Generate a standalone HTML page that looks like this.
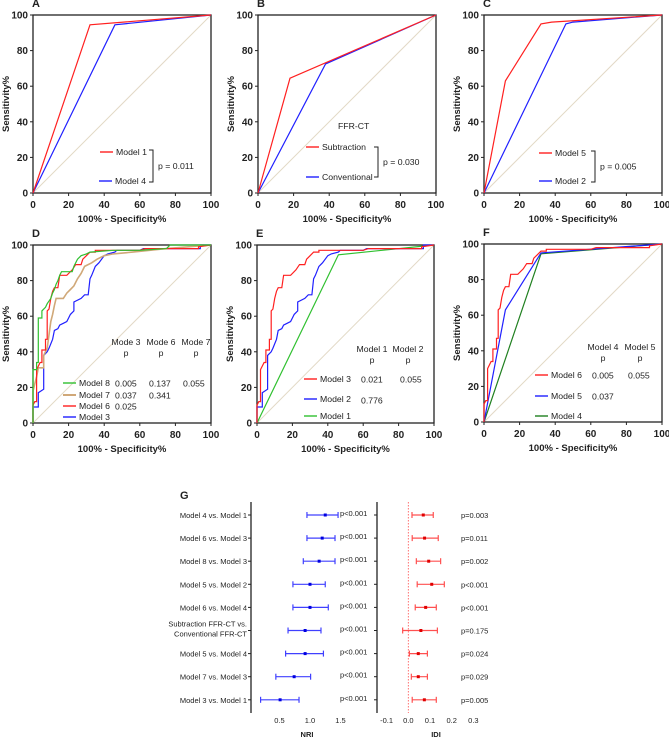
<!DOCTYPE html>
<html><head><meta charset="utf-8"><style>
html,body{margin:0;padding:0;background:#fff;}
svg{display:block;font-family:"Liberation Sans",Arial,sans-serif;}
.tk{font-size:10px;font-weight:bold;fill:#222;}
.tt{font-size:9.5px;font-weight:bold;fill:#222;}
.lg{font-size:8.7px;fill:#222;}
.pl{font-size:11px;font-weight:bold;fill:#222;}
.gl{font-size:7.5px;fill:#222;}
</style></head><body>
<svg id="fig" width="669" height="737" viewBox="0 0 669 737"></svg>
<script>
// ---- ROC data (x = 100% - specificity, y = sensitivity) ----
const aModel1X=[0,32,100]; const aModel1Y=[0,94.5,100];
const aModel4X=[0,46,100]; const aModel4Y=[0,94.5,100];
const bSubX=[0,18,100]; const bSubY=[0,64.5,100];
const bConvX=[0,38,100]; const bConvY=[0,72.5,100];
const cModel5X=[0,12,32,38,100]; const cModel5Y=[0,63,95,96,100];
const cModel2X=[0,46,50,100]; const cModel2Y=[0,95,96,100];
const redStepX=[0,0,1,2,2,4,5,5,7,7,8,8,9,10,11,12,14,15,19,22,24,27,28,30,32,35,35,60,63,93,93,100];
const redStepY=[0,10,12,12,30,34,34,41,41,47,47,63,64,70,74,76,76,83,83,86,89,89,92,94,96,96,97,97,98,98,99,100];
const blueStepX=[0,0,3,3,6,6,8,9,11,12,14,15,17,19,20,21,23,23,27,29,31,32,33,35,37,40,42,46,47,60,62,94,94,100];
const blueStepY=[0,9,9,17,19,38,40,42,47,52,53,55,56,57,59,61,63,68,70,72,72,81,83,88,90,94,95,96,97,97,98,98,100,100];
const greenStepX=[0,0,2,2,3,3,5,5,7,8,10,11,12,13,14,15,16,22,23,25,27,30,32,45,60,75,77,100];
const greenStepY=[0,30,30,34,34,59,59,63,65,67,70,73,75,78,80,83,85,85,88,92,94,95,96,97,97,98,100,100];
const tanStepX=[0,0,2,3,6,6,8,10,11,12,13,17,19,21,23,25,27,29,33,36,40,45,56,75,100];
const tanStepY=[0,18,26,31,31,38,42,57,61,66,70,70,73,75,77,81,84,88,90,92,94,95,96,98,100];
const fModel5X=[0,12,32,100]; const fModel5Y=[0,63,95,100];
const fModel4X=[0,32,100]; const fModel4Y=[0,94.5,100];
const rocTicks=[0,20,40,60,80,100];
// ---- Forest plot data ----
const compLabels=[["Model 4 vs. Model 1"],["Model 6 vs. Model 3"],["Model 8 vs. Model 3"],["Model 5 vs. Model 2"],["Model 6 vs. Model 4"],["Subtraction FFR-CT vs.","Conventional FFR-CT"],["Model 5 vs. Model 4"],["Model 7 vs. Model 3"],["Model 3 vs. Model 1"]];
const nriMid=[1.25,1.2,1.15,1.0,1.0,0.92,0.92,0.74,0.51];
const nriLo=[0.95,0.95,0.89,0.72,0.72,0.64,0.6,0.44,0.19];
const nriHi=[1.46,1.41,1.41,1.25,1.3,1.18,1.22,1.01,0.82];
const nriP=["p<0.001","p<0.001","p<0.001","p<0.001","p<0.001","p<0.001","p<0.001","p<0.001","p<0.001"];
const idiMid=[0.069,0.075,0.094,0.108,0.08,0.058,0.046,0.046,0.074];
const idiLo=[0.017,0.018,0.037,0.041,0.032,-0.026,0.005,0.014,0.018];
const idiHi=[0.115,0.138,0.149,0.166,0.129,0.134,0.088,0.088,0.129];
const idiP=["p=0.003","p=0.011","p=0.002","p<0.001","p<0.001","p=0.175","p=0.024","p=0.029","p=0.005"];
const nriTicks=[0.5,1.0,1.5];
const idiTicks=[-0.1,0.0,0.1,0.2,0.3];

const NS="http://www.w3.org/2000/svg";
const svg=document.getElementById('fig');
function mk(tag,attrs,parent,txt){const e=document.createElementNS(NS,tag);for(const k in attrs)e.setAttribute(k,attrs[k]);if(txt!==undefined)e.textContent=txt;(parent||svg).appendChild(e);return e;}

function panel(name,letter,x0,x1,y0,y1,series,legendFn){
  const g=mk('g',{});
  
  
  const sx=v=>x0+(x1-x0)*v/100, sy=v=>y0-(y0-y1)*v/100;
  const lt=mk('text',{x:x0-1,y:y1-8,class:'pl'},g,letter);
  
  const dg=mk('line',{x1:sx(0),y1:sy(0),x2:sx(100),y2:sy(100),stroke:'#e2d9c6','stroke-width':1},g);
  
  const fr=mk('rect',{x:x0,y:y1,width:x1-x0,height:y0-y1,fill:'none',stroke:'#222','stroke-width':1.3},g);
  
  rocTicks.forEach(t=>{
    mk('line',{x1:sx(t),y1:y0,x2:sx(t),y2:y0+3,stroke:'#222'},g);
    mk('line',{x1:x0,y1:sy(t),x2:x0-3,y2:sy(t),stroke:'#222'},g);
    const a=mk('text',{x:sx(t),y:y0+15,'text-anchor':'middle',class:'tk'},g,t);
    
    const b=mk('text',{x:x0-5,y:sy(t)+3.5,'text-anchor':'end',class:'tk'},g,t);
    
  });
  const xt=mk('text',{x:(x0+x1)/2,y:y0+29,'text-anchor':'middle',class:'tt'},g,'100% - Specificity%');
  
  const cy=(y0+y1)/2;
  const yt=mk('text',{x:x0-24,y:cy,'text-anchor':'middle',class:'tt',transform:`rotate(-90 ${x0-24} ${cy})`},g,'Sensitivity%');
  
  series.forEach(s=>{
    const pts=s.x.map((v,i)=>sx(v).toFixed(1)+','+sy(s.y[i]).toFixed(1)).join(' ');
    const p=mk('polyline',{points:pts,fill:'none',stroke:s.c,'stroke-width':s.w||1.2},g);
    
  });
  legendFn(g);
}
function legLine(g,x,y,c,label,name,w){
  const l=mk('line',{x1:x,y1:y,x2:x+13,y2:y,stroke:c,'stroke-width':w||1.4},g);
  
  const t=mk('text',{x:x+16,y:y+3.2,class:'lg'},g,label);
  
}
function txt(g,x,y,s,name,anchor){const t=mk('text',{x:x,y:y,class:'lg','text-anchor':anchor||'start'},g,s);return t;}
function bracket(g,x,ya,yb,ptext,name){
  const p=mk('polyline',{points:`${x-4},${ya} ${x},${ya} ${x},${yb} ${x-4},${yb}`,fill:'none',stroke:'#222','stroke-width':1},g);
  
  txt(g,x+5,(ya+yb)/2+3.2,ptext,name);
}
const RED='#ff2020',BLUE='#2020ff',GREEN='#30c030',TAN='#d0a878',DGREEN='#208020';

panel('panel-a-roc','A',33,211,193,15,[
  {x:aModel4X,y:aModel4Y,c:BLUE,n:'model4-roc-line'},
  {x:aModel1X,y:aModel1Y,c:RED,n:'model1-roc-line'}],g=>{
  legLine(g,100,152,RED,'Model 1','legend-model1');
  legLine(g,99,181,BLUE,'Model 4','legend-model4');
  bracket(g,153,150,182,'p = 0.011','p-value-a');
});
panel('panel-b-roc','B',258,436,193,15,[
  {x:bConvX,y:bConvY,c:BLUE,n:'conventional-roc-line'},
  {x:bSubX,y:bSubY,c:RED,n:'subtraction-roc-line'}],g=>{
  txt(g,338,129,'FFR-CT','legend-title');
  legLine(g,306,147,RED,'Subtraction','legend-subtraction');
  legLine(g,306,177,BLUE,'Conventional','legend-conventional');
  bracket(g,378,147,177,'p = 0.030','p-value-b');
});
panel('panel-c-roc','C',484,662,193,15,[
  {x:cModel2X,y:cModel2Y,c:BLUE,n:'model2-roc-line'},
  {x:cModel5X,y:cModel5Y,c:RED,n:'model5-roc-line'}],g=>{
  legLine(g,539,153,RED,'Model 5','legend-model5');
  legLine(g,539,181,BLUE,'Model 2','legend-model2');
  bracket(g,595,151,182,'p = 0.005','p-value-c');
});
panel('panel-d-roc','D',33,211,423,245,[
  {x:blueStepX,y:blueStepY,c:BLUE,n:'model3-roc-line'},
  {x:tanStepX,y:tanStepY,c:TAN,n:'model7-roc-line',w:1.6},
  {x:redStepX,y:redStepY,c:RED,n:'model6-roc-line'},
  {x:greenStepX,y:greenStepY,c:GREEN,n:'model8-roc-line'}],g=>{
  txt(g,126,345,'Mode 3','table-header','middle');txt(g,126,356,'p','table-header','middle');
  txt(g,161,345,'Mode 6','table-header','middle');txt(g,161,356,'p','table-header','middle');
  txt(g,196,345,'Mode 7','table-header','middle');txt(g,196,356,'p','table-header','middle');
  legLine(g,63,383,GREEN,'Model 8','legend-model8');
  legLine(g,63,395,TAN,'Model 7','legend-model7',2);
  legLine(g,63,406,RED,'Model 6','legend-model6');
  legLine(g,63,417,BLUE,'Model 3','legend-model3');
  txt(g,115,386.5,'0.005','p-value');txt(g,149,386.5,'0.137','p-value');txt(g,183,386.5,'0.055','p-value');
  txt(g,115,398.5,'0.037','p-value');txt(g,149,398.5,'0.341','p-value');
  txt(g,115,409.5,'0.025','p-value');
});
panel('panel-e-roc','E',257,434,423,245,[
  {x:aModel4X,y:aModel4Y,c:GREEN,n:'model1-roc-line'},
  {x:blueStepX,y:blueStepY,c:BLUE,n:'model2-roc-line'},
  {x:redStepX,y:redStepY,c:RED,n:'model3-roc-line'}],g=>{
  txt(g,372,352,'Model 1','table-header','middle');txt(g,372,363,'p','table-header','middle');
  txt(g,408,352,'Model 2','table-header','middle');txt(g,408,363,'p','table-header','middle');
  legLine(g,304,379,RED,'Model 3','legend-model3');
  legLine(g,304,399,BLUE,'Model 2','legend-model2');
  legLine(g,304,416,GREEN,'Model 1','legend-model1');
  txt(g,361,382.5,'0.021','p-value');txt(g,400,382.5,'0.055','p-value');
  txt(g,361,403.5,'0.776','p-value');
});
panel('panel-f-roc','F',484,662,422,244,[
  {x:fModel4X,y:fModel4Y,c:DGREEN,n:'model4-roc-line'},
  {x:fModel5X,y:fModel5Y,c:BLUE,n:'model5-roc-line'},
  {x:redStepX,y:redStepY,c:RED,n:'model6-roc-line'}],g=>{
  txt(g,603,350,'Model 4','table-header','middle');txt(g,603,361,'p','table-header','middle');
  txt(g,640,350,'Model 5','table-header','middle');txt(g,640,361,'p','table-header','middle');
  legLine(g,535,375,RED,'Model 6','legend-model6');
  legLine(g,535,396,BLUE,'Model 5','legend-model5');
  legLine(g,535,416,DGREEN,'Model 4','legend-model4');
  txt(g,592,378.5,'0.005','p-value');txt(g,628,378.5,'0.055','p-value');
  txt(g,592,399.5,'0.037','p-value');
});

// ---- Panel G forest plot ----
const G=mk('g',{});


const gl=mk('text',{x:180,y:499,class:'pl','font-size':'9px'},G,'G');

const rowY=i=>515+i*23.1;
const nx=v=>249+61*v;
const ix=v=>408.3+217*v;
const ax1=mk('line',{x1:251,y1:502,x2:251,y2:713,stroke:'#222','stroke-width':1.3},G);

const ax2=mk('line',{x1:377,y1:502,x2:377,y2:713,stroke:'#222','stroke-width':1.3},G);

const zl=mk('line',{x1:ix(0),y1:502,x2:ix(0),y2:713,stroke:'#ff5050','stroke-width':0.8,'stroke-dasharray':'1.5,1.5'},G);

nriTicks.forEach(t=>{const e=mk('text',{x:nx(t),y:723,'text-anchor':'middle',class:'gl'},G,t.toFixed(1));});
idiTicks.forEach(t=>{const e=mk('text',{x:ix(t),y:723,'text-anchor':'middle',class:'gl'},G,t.toFixed(1));});
const nt=mk('text',{x:307,y:737,'text-anchor':'middle',class:'gl','font-weight':'bold','font-size':'7.5px'},G,'NRI');

const it=mk('text',{x:436,y:737,'text-anchor':'middle',class:'gl','font-weight':'bold','font-size':'7.5px'},G,'IDI');

compLabels.forEach((lab,i)=>{
  const y=rowY(i);
  const off=lab.length>1?-4:3;
  lab.forEach((s,k)=>{const e=mk('text',{x:247,y:y+off+k*10,'text-anchor':'end',class:'gl'},G,s);});
  mk('line',{x1:251,y1:y,x2:248,y2:y,stroke:'#222'},G);
  mk('line',{x1:377,y1:y,x2:374,y2:y,stroke:'#222'},G);
  const ng=mk('g',{},G);
  
  
  mk('line',{x1:nx(nriLo[i]),y1:y,x2:nx(nriHi[i]),y2:y,stroke:'#4040ff','stroke-width':1.2},ng);
  mk('line',{x1:nx(nriLo[i]),y1:y-3,x2:nx(nriLo[i]),y2:y+3,stroke:'#4040ff','stroke-width':1.2},ng);
  mk('line',{x1:nx(nriHi[i]),y1:y-3,x2:nx(nriHi[i]),y2:y+3,stroke:'#4040ff','stroke-width':1.2},ng);
  mk('rect',{x:nx(nriMid[i])-1.5,y:y-1.5,width:3,height:3,fill:'#0000e0'},ng);
  const np=mk('text',{x:340,y:y+1,class:'gl'},G,nriP[i]);
  
  const ig=mk('g',{},G);
  
  
  mk('line',{x1:ix(idiLo[i]),y1:y,x2:ix(idiHi[i]),y2:y,stroke:'#ff5050','stroke-width':1.2},ig);
  mk('line',{x1:ix(idiLo[i]),y1:y-3,x2:ix(idiLo[i]),y2:y+3,stroke:'#ff5050','stroke-width':1.2},ig);
  mk('line',{x1:ix(idiHi[i]),y1:y-3,x2:ix(idiHi[i]),y2:y+3,stroke:'#ff5050','stroke-width':1.2},ig);
  mk('rect',{x:ix(idiMid[i])-1.5,y:y-1.5,width:3,height:3,fill:'#e00000'},ig);
  const ip=mk('text',{x:461,y:y+3,class:'gl'},G,idiP[i]);
  
});
</script>
</body></html>
